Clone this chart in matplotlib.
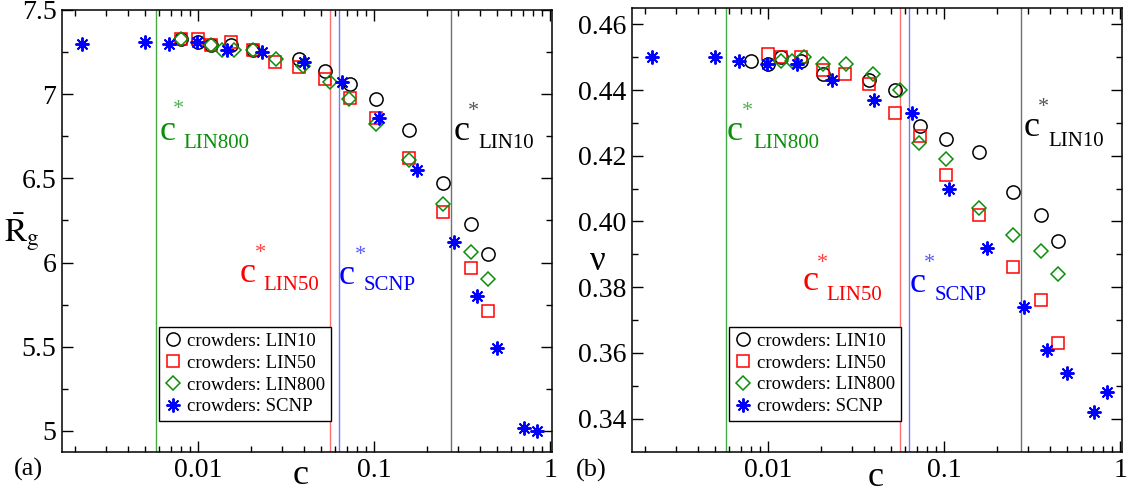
import numpy as np
import matplotlib
matplotlib.use('Agg')
import matplotlib.pyplot as plt
from matplotlib.ticker import FixedLocator, LogLocator, FuncFormatter, NullFormatter

plt.rcParams['font.family'] = ['Liberation Serif', 'DejaVu Serif']
plt.rcParams['mathtext.fontset'] = 'stix'

nan = np.nan

# crowder concentrations per crowder type
c_lin10 = [0.008, 0.010, 0.0119, 0.0154, 0.0205, 0.0377, 0.0527, 0.0726, 0.1026, 0.157, 0.247, 0.356, 0.446]
c_lin50 = [0.008, 0.010, 0.0119, 0.0154, 0.0205, 0.0275, 0.0377, 0.0527, 0.0726, 0.1026, 0.157, 0.247, 0.356, 0.446]
c_lin800 = [0.008, 0.0119, 0.0136, 0.0161, 0.0206, 0.0276, 0.0396, 0.0562, 0.0718, 0.103, 0.158, 0.247, 0.356, 0.446]
c_scnp = [0.0022, 0.0050, 0.0068, 0.0098, 0.0146, 0.0230, 0.040, 0.0656, 0.107, 0.176, 0.285, 0.383, 0.50, 0.711, 0.84]

# (a) mean radius of gyration
rg_lin10 = [7.33, 7.31, 7.29, 7.29, 7.26, 7.21, 7.14, 7.06, 6.97, 6.79, 6.47, 6.23, 6.05]
rg_lin50 = [7.33, 7.33, 7.29, 7.31, 7.26, 7.19, 7.16, 7.09, 6.98, 6.86, 6.62, 6.30, 5.97, 5.71]
rg_lin800 = [7.33, 7.29, 7.26, 7.26, 7.26, 7.21, 7.17, 7.07, 6.97, 6.82, 6.61, 6.35, 6.06, 5.90]
rg_scnp = [7.30, 7.31, 7.30, 7.31, 7.26, 7.25, 7.19, 7.07, 6.86, 6.55, 6.12, 5.80, 5.49, 5.02, 5.00]

# (b) scaling exponent
nu_lin10 = [0.449, 0.448, 0.450, 0.449, 0.445, 0.443, 0.440, 0.429, 0.425, 0.421, 0.409, 0.402, 0.394]
nu_lin50 = [nan, 0.451, 0.450, 0.450, 0.446, 0.445, 0.442, 0.433, 0.426, 0.414, 0.402, 0.386, 0.376, 0.363]
nu_lin800 = [nan, 0.449, 0.449, 0.450, 0.448, 0.448, 0.445, 0.440, 0.424, 0.419, 0.404, 0.396, 0.391, 0.384]
nu_scnp = [0.450, 0.450, 0.449, 0.448, 0.448, 0.443, 0.437, 0.433, 0.410, 0.392, 0.374, 0.361, 0.354, 0.342, 0.348]

# overlap concentrations c*
cstar_names = ['LIN800', 'LIN50', 'SCNP', 'LIN10']
cstar_vals = [0.0058, 0.0560, 0.0630, 0.275]

GREEN = '#0a8f0a'
line_cols = {'LIN800': '#44aa44', 'LIN50': '#ff7070', 'SCNP': '#7878ff', 'LIN10': '#707070'}
text_cols = {'LIN800': GREEN, 'LIN50': 'red', 'SCNP': 'blue', 'LIN10': 'black'}
star_cols = {'LIN800': '#55b055', 'LIN50': '#ff4040', 'SCNP': '#5a5aff', 'LIN10': '#555555'}

fig = plt.figure(figsize=(11.32, 4.95), dpi=100)
W, H = 1132, 495


def px_axes(x0, y0, x1, y1):
    return fig.add_axes([x0 / W, 1 - y1 / H, (x1 - x0) / W, (y1 - y0) / H])


def px_text(x, y, s, **kw):
    return fig.text(x / W, 1 - y / H, s, **kw)


axa = px_axes(62, 10, 552, 452)
axb = px_axes(632, 8, 1122, 452)

star = (8, 2, 0)
styles = [
    ('crowders: LIN10', dict(marker='o', ms=9.5, mfc='none', mec='black', mew=1.1)),
    ('crowders: LIN50', dict(marker='s', ms=8.5, mfc='none', mec='red', mew=1.1)),
    ('crowders: LIN800', dict(marker='D', ms=7.5, mfc='none', mec=GREEN, mew=1.1)),
    ('crowders: SCNP', dict(marker=star, ms=10, mfc='blue', mec='blue', mew=1.4)),
]

panels = [
    (axa, [(c_lin10, rg_lin10), (c_lin50, rg_lin50), (c_lin800, rg_lin800), (c_scnp, rg_scnp)]),
    (axb, [(c_lin10, nu_lin10), (c_lin50, nu_lin50), (c_lin800, nu_lin800), (c_scnp, nu_scnp)]),
]

for ax, sets in panels:
    for (label, st), (x, y) in zip(styles, sets):
        ax.plot(x, y, ls='none', label=label, **st)
    for name, cv in zip(cstar_names, cstar_vals):
        ax.axvline(cv, color=line_cols[name], lw=1.0, zorder=1)
    ax.set_xscale('log')
    ax.set_xlim(10 ** -2.773, 10 ** 0.011)
    ax.xaxis.set_major_locator(FixedLocator([0.01, 0.1, 1]))
    ax.xaxis.set_major_formatter(FuncFormatter(lambda v, p: '%g' % v))
    ax.xaxis.set_minor_locator(LogLocator(base=10, subs=np.arange(2, 10)))
    ax.xaxis.set_minor_formatter(NullFormatter())
    ax.tick_params(which='both', direction='in', top=True, right=True, width=1.0,
                   labelsize=20, pad=4)
    ax.tick_params(which='major', length=8)
    ax.tick_params(which='minor', length=4)
    for sp in ax.spines.values():
        sp.set_linewidth(1.1)
    leg = ax.legend(loc='lower left', bbox_to_anchor=(0.198, 0.07), borderaxespad=0,
                    fontsize=13.5, frameon=True, fancybox=False, framealpha=1,
                    edgecolor='black', borderpad=0.3, labelspacing=0.25,
                    handlelength=0.9, handletextpad=0.3, numpoints=1)
    leg.get_frame().set_linewidth(1.0)

axa.set_ylim(4.875, 7.5)
axa.yaxis.set_major_locator(FixedLocator([5, 5.5, 6, 6.5, 7, 7.5]))
axa.yaxis.set_minor_locator(FixedLocator([5.25, 5.75, 6.25, 6.75, 7.25]))
axa.yaxis.set_major_formatter(FuncFormatter(lambda v, p: '%g' % v))

axb.set_ylim(0.3298, 0.465)
axb.yaxis.set_major_locator(FixedLocator([0.34, 0.36, 0.38, 0.40, 0.42, 0.44, 0.46]))
axb.yaxis.set_minor_locator(FixedLocator([0.35, 0.37, 0.39, 0.41, 0.43, 0.45]))
axb.yaxis.set_major_formatter(FuncFormatter(lambda v, p: '%.2f' % v))

# axis labels and panel tags
px_text(301, 476, 'c', fontsize=26, ha='center', va='center')
px_text(876, 478, 'c', fontsize=26, ha='center', va='center')
px_text(22, 232, r'$\bar{\mathrm{R}}_{\mathrm{g}}$', fontsize=24, ha='center', va='center')
px_text(598, 262, 'ν', fontsize=25, ha='center', va='center')
px_text(28, 469, '(a)', fontsize=19, ha='center', va='center')
px_text(591, 470, '(b)', fontsize=19, ha='center', va='center')

# c* labels: (name, c centre, star centre, subscript left edge / centre y) in pixels
cstar_labels = [
    ('LIN800', (168, 132), (178, 110), (183, 143)),
    ('LIN50', (248, 273), (260, 254), (263, 285)),
    ('SCNP', (347, 275), (360, 256), (364, 286)),
    ('LIN10', (462, 132), (473, 112), (478, 143)),
    ('LIN800', (735, 132), (747, 112), (753, 143)),
    ('LIN50', (811, 282), (822, 263), (826, 296)),
    ('SCNP', (918, 283), (929, 263), (935, 295)),
    ('LIN10', (1032, 128), (1043, 108), (1048, 141)),
]
for name, cpos, spos, lpos in cstar_labels:
    col = text_cols[name]
    px_text(cpos[0], cpos[1], 'c', fontsize=26, color=col, ha='center', va='center')
    px_text(spos[0], spos[1], '*', fontsize=16, color=star_cols[name], ha='center', va='center')
    px_text(lpos[0], lpos[1], name, fontsize=15, color=col, ha='left', va='center')

fig.savefig('out.png', dpi=100)
